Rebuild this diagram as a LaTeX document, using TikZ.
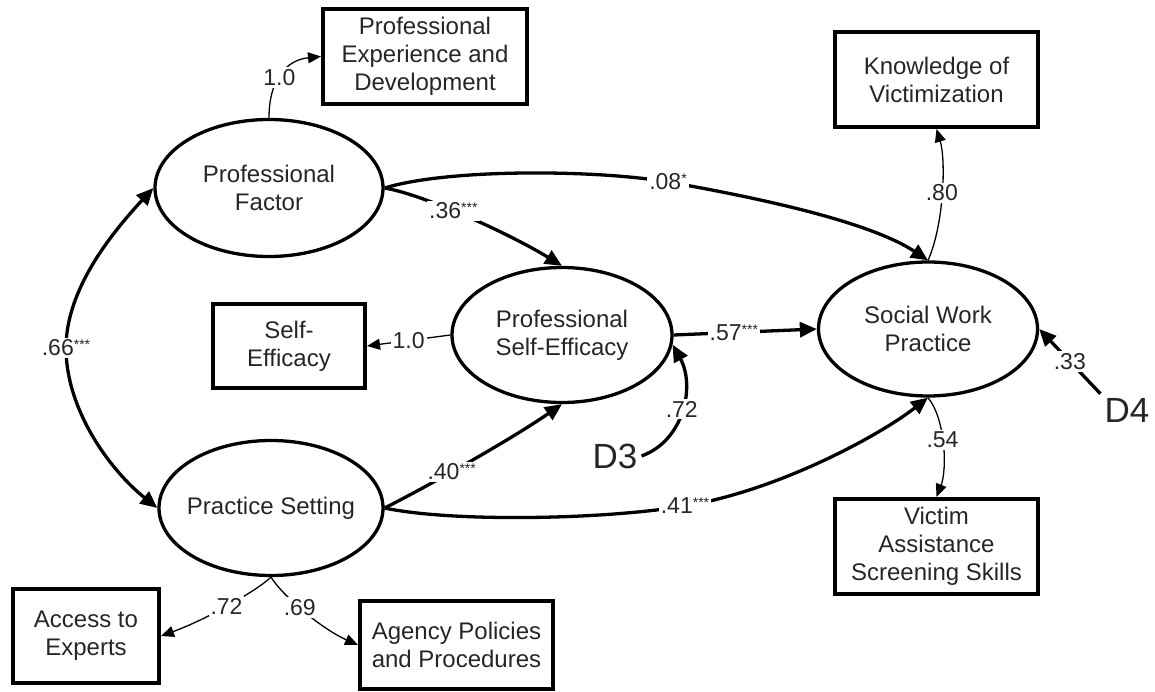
\documentclass[tikz,border=0pt]{standalone}
\usepackage{fontspec}
\setmainfont{Liberation Sans}
\usetikzlibrary{arrows.meta,shapes.geometric}
\newcommand{\boxfont}{\fontsize{24}{28}\selectfont}
\newcommand{\coeffont}{\fontsize{23}{26}\selectfont}
\newcommand{\dfont}{\fontsize{35}{40}\selectfont}
\newcommand{\sig}[1]{\raisebox{6pt}{\fontsize{14}{14}\selectfont #1}}
\begin{document}
\begin{tikzpicture}[x=1pt,y=-1pt,
  lat/.style={ellipse, draw, line width=3.3pt, inner sep=0pt},
  obs/.style={draw, line width=4pt, inner sep=0pt, align=center, font=\boxfont, text=black!85},
  txt/.style={align=center, font=\boxfont, text=black!85},
  pth/.style={line width=3.3pt, -{Triangle[length=17pt,width=15pt]}},
  load/.style={line width=1.3pt, -{Triangle[length=13pt,width=11pt]}},
  coef/.style={fill=white, inner sep=2pt, font=\coeffont, text=black!85},
  dist/.style={font=\dfont, inner sep=4pt, text=black!85}]
\useasboundingbox (0,0) rectangle (1155,692);

% latent variables
\node[lat, minimum width=228pt, minimum height=137pt] (pf) at (269,188) {};
\node[txt] (pft) at (pf) {Professional\\Factor};
\node[lat, minimum width=220pt, minimum height=135pt] (pse) at (562,335) {};
\node[txt] (pset) at (pse) {Professional\\Self-Efficacy};
\node[lat, minimum width=224pt, minimum height=135pt] (ps) at (271,508) {};
\node[txt] (pst) at (ps) {Practice Setting};
\node[lat, minimum width=219pt, minimum height=134pt] (swp) at (928,329) {};
\node[txt] (swpt) at (swp) {Social Work\\Practice};

% observed variables
\node[obs, minimum width=204pt, minimum height=95pt] (ped) at (425,56.5) {Professional\\Experience and\\Development};
\node[obs, minimum width=152pt, minimum height=84pt] (se) at (289,346) {Self-\\Efficacy};
\node[obs, minimum width=203pt, minimum height=95pt] (kov) at (936.5,79.5) {Knowledge of\\Victimization};
\node[obs, minimum width=203pt, minimum height=95pt] (vas) at (936.5,546.5) {Victim\\Assistance\\Screening Skills};
\node[obs, minimum width=146pt, minimum height=94pt] (ate) at (86,636) {Access to\\Experts};
\node[obs, minimum width=193pt, minimum height=88pt] (app) at (456.5,645) {Agency Policies\\and Procedures};

% disturbances
\node[dist] (d3) at (615,456) {D3};
\node[dist] (d4) at (1127,410) {D4};

% loadings (thin)
\draw[load] (pf.north) .. controls (269,80) and (286,60) .. node[coef,pos=0.45]{1.0} (ped.west);
\draw[load] (pse.west) -- node[coef]{1.0} (se.east);
\draw[load] (swp.north) .. controls (944,225) and (946,160) .. node[coef,pos=0.5]{.80} (kov.south);
\draw[load] (swp.south) .. controls (946,420) and (947,470) .. node[coef,pos=0.45]{.54} (vas.north);
\draw[load] (ps.south) .. controls (255,592) and (205,620) .. node[coef,pos=0.5]{.72} (ate.east);
\draw[load] (ps.south) .. controls (282,595) and (320,628) .. node[coef,pos=0.45]{.69} (app.west);

% structural paths (thick)
\draw[line width=3.3pt, {Triangle[length=17pt,width=15pt]}-{Triangle[length=17pt,width=15pt]}]
  (pf.west) .. controls (110,235) and (66,290) .. (66,348) node[coef]{.66\sig{***}}
  .. controls (66,410) and (110,470) .. (ps.west);
\draw[pth] (pf.east) .. controls (425,195) and (510,234) .. node[coef,pos=0.42]{.36\sig{***}} (pse.north);
\draw[pth] (pf.east) .. controls (450,168) and (600,170) .. (668,182) node[coef]{.08\sig{*}}
  .. controls (760,198) and (870,222) .. (swp.north);
\draw[pth] (pse.east) -- node[coef,pos=0.42]{.57\sig{***}} (swp.west);
\draw[pth] (ps.east) .. controls (430,485) and (510,440) .. node[coef,pos=0.4]{.40\sig{***}} (pse.south);
\draw[pth] (ps.east) .. controls (450,522) and (600,520) .. (685,506) node[coef]{.41\sig{***}}
  .. controls (780,490) and (880,435) .. (swp.south);
\draw[pth] (d3.east) .. controls (685,440) and (695,385) .. node[coef,pos=0.5]{.72} (pse.-5);
\draw[pth] (d4.north west) -- node[coef,pos=0.5]{.33} (swp.east);
\end{tikzpicture}
\end{document}
